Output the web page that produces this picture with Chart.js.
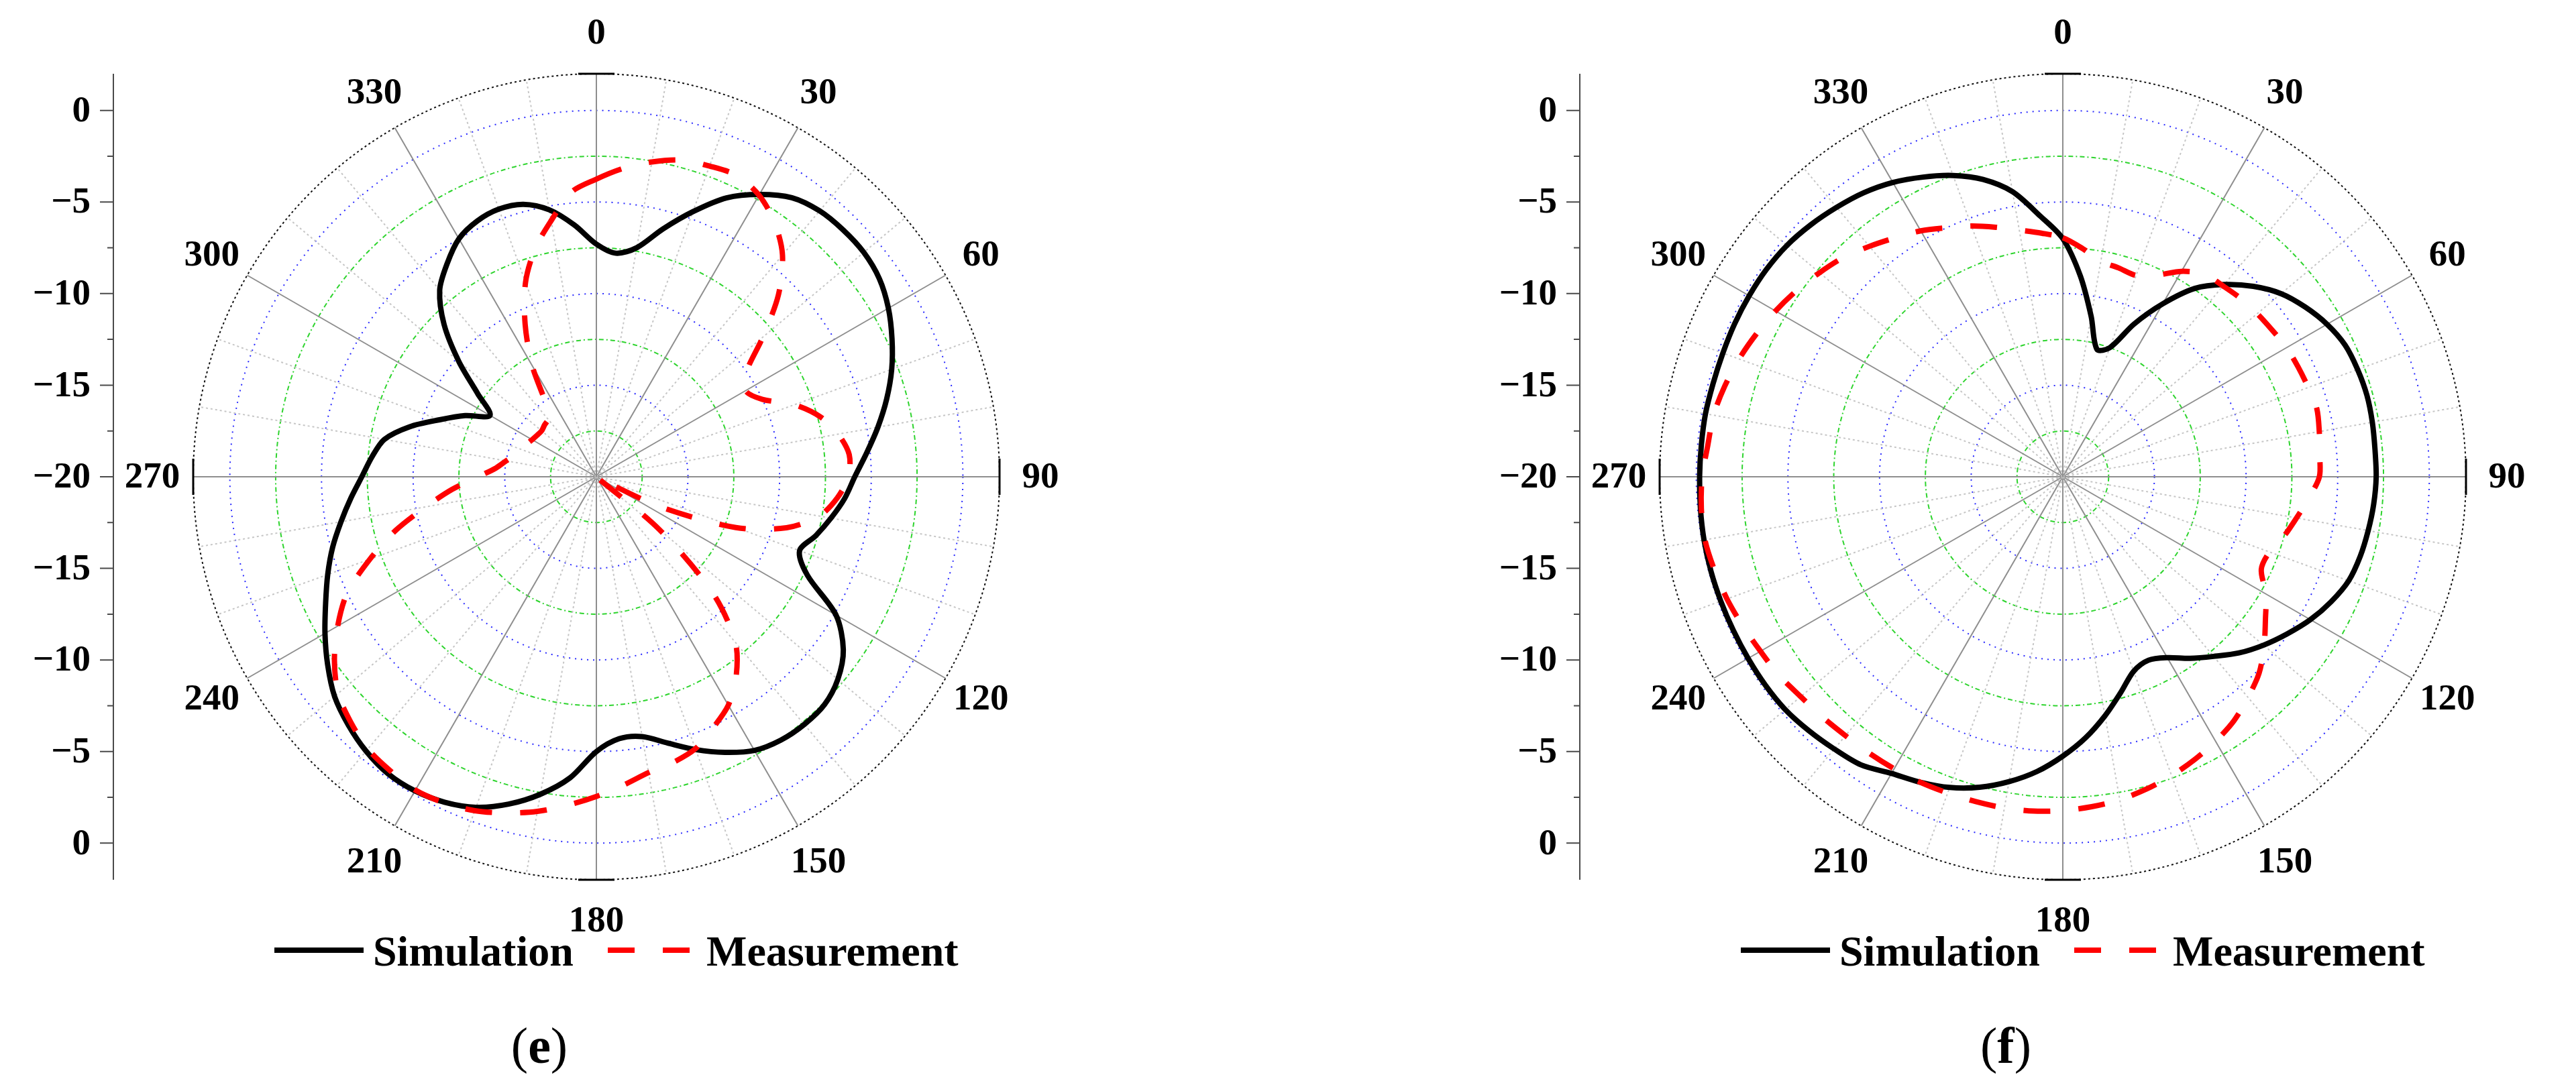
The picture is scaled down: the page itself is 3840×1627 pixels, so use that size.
<!DOCTYPE html>
<html>
<head>
<meta charset="utf-8">
<script src="https://cdn.jsdelivr.net/npm/chart.js@4.4.1/dist/chart.umd.min.js"></script>
<style>
    html, body { margin: 0; padding: 0; background: #fff; }
    body { width: 3840px; height: 1627px; position: relative; overflow: hidden; }
    canvas { position: absolute; top: 0; }
    #chartE { left: 0; }
    #chartF { left: 1920px; }
</style>
</head>
<body>
<canvas id="chartE" width="1920" height="1627"></canvas>
<canvas id="chartF" width="1920" height="1627"></canvas>
<script>
// angle in degrees, 0 at top, clockwise
const angles = [0,5,10,15,20,25,30,35,40,45,50,55,60,65,70,75,80,85,90,95,100,105,110,115,
    120,125,130,135,140,145,150,155,160,165,170,175,180,185,190,195,200,205,210,215,220,225,230,235,
    240,245,250,255,260,265,270,275,280,285,290,295,300,305,310,315,320,325,330,335,340,345,350,355]

const angleTicks = ['0','30','60','90','120','150','180','210','240','270','300','330']
const ringValues = [-20,-17.5,-15,-12.5,-10,-7.5,-5,-2.5,0,2]
const axisValues = [0,-5,-10,-15,-20]
const seriesNames = ['Simulation','Measurement']

// (e)
const simE = [-7.3,-7.75,-7.3,-6.0,-4.6,-3.2,-2.2,-1.4,-1.05,-0.95,
    -0.95,-1.15,-1.6,-2.2,-2.85,-3.6,-4.4,-5.2,-5.9,-6.4,
    -7.0,-7.6,-8.2,-7.3,-4.9,-3.55,-2.8,-2.4,-2.35,-2.45,
    -2.75,-3.4,-4.15,-4.95,-5.6,-5.65,-5.0,-3.5,-2.4,-1.5,
    -0.8,-0.4,-0.2,-0.2,-0.45,-0.85,-1.35,-2.1,-2.9,-3.7,
    -4.4,-5.1,-5.85,-6.55,-7.2,-7.7,-8.25,-9.45,-10.9,-12.1,
    -13.3,-12.1,-10.2,-8.25,-6.7,-5.8,-5.0,-4.6,-4.45,-4.6,
    -5.2,-6.2]
const measE = [-3.75,-3.1,-2.55,-2.1,-1.95,-1.85,-2.25,-3.05,-4.2,-5.95,
    -8.15,-10.0,-10.6,-10.0,-8.5,-7.35,-6.6,-6.15,-6.25,-6.8,
    -7.65,-9.25,-11.9,-16.0,-19.6,-20,-15.5,-11.0,-8.2,-6.7,
    -5.6,-4.9,-4.2,-3.85,-3.6,-3.1,-2.55,-2.0,-1.45,-1.0,
    -0.6,-0.36,-0.25,-0.4,-0.6,-1.05,-1.6,-2.55,-3.7,-5.0,
    -6.85,-8.65,-10.55,-12.1,-13.55,-14.5,-15.0,-15.4,-15.65,-15.8,
    -15.95,-16.05,-16.1,-16.0,-15.9,-15.25,-13.0,-10.8,-8.7,-7.1,
    -5.8,-4.4]

// (f)
const simF = [-7.0,-9.0,-11.1,-12.8,-12.5,-10.8,-9.1,-7.45,-6.3,-5.3,
    -4.45,-3.85,-3.35,-3.0,-2.88,-2.82,-2.85,-2.9,-2.9,-2.97,
    -3.08,-3.2,-3.4,-3.85,-4.4,-5.05,-5.7,-6.4,-7.2,-7.9,
    -8.6,-8.95,-8.7,-7.8,-6.75,-5.7,-4.75,-3.85,-3.1,-2.45,
    -1.95,-1.6,-1.3,-0.8,-0.6,-0.4,-0.23,-0.18,-0.17,-0.16,
    -0.14,-0.12,-0.12,-0.15,-0.18,-0.2,-0.2,-0.25,-0.26,-0.24,
    -0.24,-0.26,-0.35,-0.55,-0.8,-1.07,-1.45,-1.95,-2.5,-3.2,
    -4.2,-5.7]
const measF = [-6.95,-7.5,-8.05,-8.2,-8.3,-7.85,-7.05,-6.5,-6.4,-6.25,
    -6.15,-6.05,-5.9,-5.83,-5.75,-5.65,-5.79,-5.93,-6.0,-6.53,
    -7.05,-7.5,-8.0,-8.05,-7.2,-6.5,-5.66,-4.85,-4.28,-3.73,
    -3.33,-2.97,-2.64,-2.35,-2.1,-1.92,-1.78,-1.68,-1.64,-1.64,
    -1.63,-1.6,-1.59,-1.58,-1.55,-1.45,-1.33,-1.1,-0.95,-0.73,
    -0.5,-0.32,-0.17,-0.2,-0.32,-0.55,-0.65,-0.9,-1.2,-1.55,
    -1.9,-2.27,-2.67,-3.07,-3.58,-4.07,-4.5,-5.0,-5.43,-5.9,
    -6.33,-6.65]

const serif = '"Liberation Serif", "Times New Roman", serif'

function ringStyle(v) {
    if (v === 2) return { color: '#111111', dash: [3, 4] }
    if (v % 5 === 0) return { color: '#2a2aff', dash: [2, 7] }
    return { color: '#2ed42e', dash: [7, 4, 2, 4] }
}

function spokeStyle(a) {
    if (a % 30 === 0) return { color: '#8e8e8e', width: 2, dash: [] }
    if (a % 10 === 0) return { color: '#c6c6c6', width: 2, dash: [3, 4] }
    return { color: 'rgba(0,0,0,0)', width: 0, dash: [] }
}

function dbText(v) {
    return v < 0 ? '\u2212' + Math.abs(v) : String(v)
}

// axis on the left, angle labels, legend and panel tag
const polarExtras = {
    id: 'polarExtras',
    afterDraw(chart, args, opts) {
        let s = chart.scales.r
        let ctx = chart.ctx
        let cx = s.xCenter, cy = s.yCenter, R = s.drawingArea
        ctx.save()

        // tangent bars at 0/90/180/270
        ctx.strokeStyle = '#000'
        ctx.lineWidth = 3
        ctx.setLineDash([])
        angles.forEach((a, i) => {
            if (a % 90 !== 0) return
            let p = s.getPointPosition(i, R)
            let tx = -Math.sin(p.angle) * 27, ty = Math.cos(p.angle) * 27
            ctx.beginPath()
            ctx.moveTo(p.x - tx, p.y - ty)
            ctx.lineTo(p.x + tx, p.y + ty)
            ctx.stroke()
        })

        // angle labels
        ctx.fillStyle = '#000'
        ctx.font = 'bold 55px ' + serif
        ctx.textAlign = 'center'
        ctx.textBaseline = 'middle'
        angles.forEach((a, i) => {
            let txt = String(a)
            if (!angleTicks.includes(txt)) return
            let p = s.getPointPosition(i, R + 61)
            ctx.fillText(txt, p.x, p.y + 2)
        })

        // vertical dB axis
        let ax = cx - 720
        ctx.strokeStyle = '#4a4a4a'
        ctx.lineWidth = 2
        ctx.beginPath()
        ctx.moveTo(ax, cy - R)
        ctx.lineTo(ax, cy + R)
        ctx.stroke()
        ringValues.forEach(v => {
            if (v > 0) return
            let d = s.getDistanceFromCenterForValue(v)
            let len = v % 5 === 0 ? 20 : 9
            ctx.beginPath()
            ctx.moveTo(ax - len, cy - d); ctx.lineTo(ax, cy - d)
            ctx.moveTo(ax - len, cy + d); ctx.lineTo(ax, cy + d)
            ctx.stroke()
        })
        ctx.textAlign = 'right'
        axisValues.forEach(v => {
            let d = s.getDistanceFromCenterForValue(v)
            ctx.fillText(dbText(v), ax - 34, cy - d + 2)
            if (d > 0) ctx.fillText(dbText(v), ax - 34, cy + d + 2)
        })

        // legend
        let sim = chart.data.datasets[0], meas = chart.data.datasets[1]
        let ly = cy + 706
        ctx.lineWidth = sim.borderWidth
        ctx.strokeStyle = sim.borderColor
        ctx.beginPath(); ctx.moveTo(cx - 480, ly); ctx.lineTo(cx - 347, ly); ctx.stroke()
        ctx.lineWidth = meas.borderWidth
        ctx.strokeStyle = meas.borderColor
        ctx.setLineDash(meas.borderDash)
        ctx.beginPath(); ctx.moveTo(cx + 17, ly); ctx.lineTo(cx + 140, ly); ctx.stroke()
        ctx.setLineDash([])
        ctx.font = 'bold 64px ' + serif
        ctx.textAlign = 'left'
        ctx.textBaseline = 'alphabetic'
        ctx.fillText(sim.label, cx - 333, cy + 729)
        ctx.fillText(meas.label, cx + 164, cy + 729)

        // panel tag, e.g. (e)
        let tx = cx - 85, ty = cy + 874
        ctx.font = '76px ' + serif
        let wOpen = ctx.measureText('(').width
        ctx.font = 'bold 76px ' + serif
        let wTag = ctx.measureText(opts.tag).width
        let x0 = tx - (2 * wOpen + wTag) / 2
        ctx.font = '76px ' + serif
        ctx.fillText('(', x0, ty)
        ctx.fillText(')', x0 + wOpen + wTag, ty)
        ctx.font = 'bold 76px ' + serif
        ctx.fillText(opts.tag, x0 + wOpen, ty)
        ctx.restore()
    }
}

function makeChart(id, sim, meas, tag, padLeft, padRight) {
    let el = document.getElementById(id).getContext('2d')
    return new Chart(el, {
        type: 'radar',
        data: {
            labels: angles,
            datasets: [{
                label: seriesNames[0],
                data: sim,
                borderColor: '#000000',
                borderWidth: 8,
                borderJoinStyle: 'round',
                fill: false,
                order: 1
            },
            {
                label: seriesNames[1],
                data: meas,
                borderColor: '#ff0000',
                borderWidth: 8,
                borderDash: [40, 42],
                fill: false,
                order: 0
            }]
        },
        options: {
            responsive: false,
            animation: false,
            devicePixelRatio: 1,
            layout: { padding: { left: padLeft, right: padRight, top: 110, bottom: 315 } },
            elements: {
                point: { radius: 0, hoverRadius: 0 },
                line: { tension: 0.3 }
            },
            plugins: {
                legend: { display: false },
                tooltip: { enabled: false },
                polarExtras: { tag: tag }
            },
            scales: {
                r: {
                    min: -20,
                    max: 2,
                    afterBuildTicks: sc => { sc.ticks = ringValues.map(v => ({ value: v })) },
                    ticks: { display: false },
                    pointLabels: { display: false },
                    grid: {
                        circular: true,
                        color: c => ringStyle(c.tick.value).color,
                        lineWidth: 2
                    },
                    border: { dash: c => ringStyle(c.tick.value).dash },
                    angleLines: {
                        color: c => spokeStyle(angles[c.index]).color,
                        lineWidth: c => spokeStyle(angles[c.index]).width,
                        borderDash: c => spokeStyle(angles[c.index]).dash
                    }
                }
            }
        },
        plugins: [polarExtras]
    })
}

makeChart('chartE', simE, measE, 'e', 288, 430)
makeChart('chartF', simF, measF, 'f', 554, 164)
</script>
</body>
</html>
